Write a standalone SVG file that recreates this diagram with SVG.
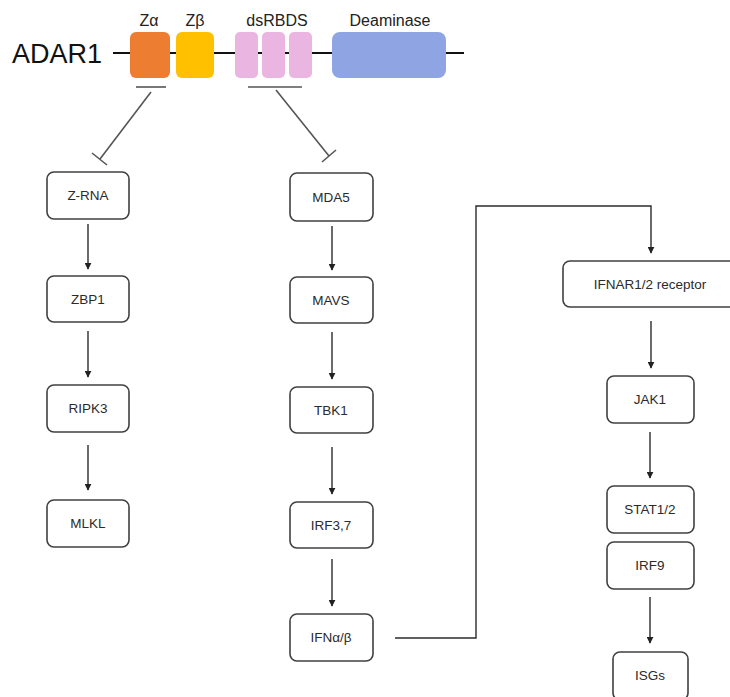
<svg xmlns="http://www.w3.org/2000/svg" width="730" height="697" viewBox="0 0 730 697">
<style>
.node rect{fill:#fff;stroke:#404040;stroke-width:1.6}
.node text{font-family:"Liberation Sans",Arial,sans-serif;font-size:13.5px;fill:#2b2b2b;text-anchor:middle}
.lbl{font-family:"Liberation Sans",Arial,sans-serif;font-size:16px;fill:#222;text-anchor:middle}
.conn{stroke:#2b2b2b;stroke-width:1.4;fill:none}
.inh{stroke:#555;stroke-width:1.6;fill:none}
</style>
<defs>
<marker id="ah" viewBox="0 0 10 10" refX="9" refY="5" markerWidth="7" markerHeight="7" markerUnits="userSpaceOnUse" orient="auto">
<path d="M0,0 L10,5 L0,10 z" fill="#222"/>
</marker>
</defs>
<g id="adar1">
<text x="12" y="63" font-family="Liberation Sans,Arial,sans-serif" font-size="27" fill="#111">ADAR1</text>
<line x1="113" y1="53" x2="464" y2="53" stroke="#111" stroke-width="2"/>
<rect x="130" y="32" width="40" height="46" rx="6" fill="#ED7D31"/>
<rect x="176" y="32" width="38" height="46" rx="6" fill="#FFC000"/>
<rect x="235" y="32" width="23" height="46" rx="5" fill="#EBB5E2"/>
<rect x="262" y="32" width="23" height="46" rx="5" fill="#EBB5E2"/>
<rect x="289" y="32" width="23" height="46" rx="5" fill="#EBB5E2"/>
<rect x="332" y="32" width="114" height="46" rx="8" fill="#8EA4E3"/>
<text class="lbl" x="149" y="26">Zα</text>
<text class="lbl" x="195" y="26">Zβ</text>
<text class="lbl" x="277" y="26">dsRBDS</text>
<text class="lbl" x="390" y="26">Deaminase</text>
</g>
<g id="connectors">
<line class="inh" x1="136" y1="87" x2="166" y2="87"/>
<line class="inh" x1="248" y1="87" x2="302" y2="87"/>
<line class="inh" x1="151" y1="92" x2="100" y2="159"/>
<line class="inh" x1="92" y1="153" x2="107" y2="165"/>
<line class="inh" x1="276" y1="90" x2="329" y2="156"/>
<line class="inh" x1="322" y1="162" x2="336" y2="150"/>
<line class="conn" x1="88" y1="224" x2="88" y2="269" marker-end="url(#ah)"/>
<line class="conn" x1="88" y1="331" x2="88" y2="377" marker-end="url(#ah)"/>
<line class="conn" x1="88" y1="445" x2="88" y2="490" marker-end="url(#ah)"/>
<line class="conn" x1="332" y1="226" x2="332" y2="270" marker-end="url(#ah)"/>
<line class="conn" x1="332" y1="332" x2="332" y2="379" marker-end="url(#ah)"/>
<line class="conn" x1="332" y1="447" x2="332" y2="494" marker-end="url(#ah)"/>
<line class="conn" x1="332" y1="559" x2="332" y2="606" marker-end="url(#ah)"/>
<polyline class="conn" points="395,638 476,638 476,206 651,206 651,253" marker-end="url(#ah)"/>
<line class="conn" x1="651" y1="321" x2="651" y2="368" marker-end="url(#ah)"/>
<line class="conn" x1="650" y1="432" x2="650" y2="478" marker-end="url(#ah)"/>
<line class="conn" x1="650" y1="597" x2="650" y2="643" marker-end="url(#ah)"/>
</g>
<g id="zrna" class="node"><rect x="47" y="172" width="82" height="47" rx="7"/><text x="88" y="200">Z-RNA</text></g>
<g id="zbp1" class="node"><rect x="47" y="276" width="82" height="46" rx="7"/><text x="88" y="304">ZBP1</text></g>
<g id="ripk3" class="node"><rect x="47" y="385" width="82" height="47" rx="7"/><text x="88" y="413">RIPK3</text></g>
<g id="mlkl" class="node"><rect x="47" y="500" width="82" height="47" rx="7"/><text x="88" y="528">MLKL</text></g>
<g id="mda5" class="node"><rect x="290" y="173" width="83" height="48" rx="7"/><text x="331" y="202">MDA5</text></g>
<g id="mavs" class="node"><rect x="290" y="277" width="83" height="46" rx="7"/><text x="331" y="305">MAVS</text></g>
<g id="tbk1" class="node"><rect x="290" y="387" width="83" height="46" rx="7"/><text x="331" y="415">TBK1</text></g>
<g id="irf37" class="node"><rect x="290" y="502" width="83" height="46" rx="7"/><text x="331" y="530">IRF3,7</text></g>
<g id="ifnab" class="node"><rect x="290" y="614" width="83" height="47" rx="7"/><text x="331" y="642">IFNα/β</text></g>
<g id="ifnar" class="node"><rect x="563" y="261" width="175" height="46" rx="7"/><text x="650" y="289">IFNAR1/2 receptor</text></g>
<g id="jak1" class="node"><rect x="607" y="376" width="87" height="47" rx="7"/><text x="650" y="404">JAK1</text></g>
<g id="stat12" class="node"><rect x="607" y="486" width="87" height="47" rx="7"/><text x="650" y="514">STAT1/2</text></g>
<g id="irf9" class="node"><rect x="607" y="542" width="87" height="47" rx="7"/><text x="650" y="570">IRF9</text></g>
<g id="isgs" class="node"><rect x="613" y="652" width="75" height="48" rx="7"/><text x="650" y="680">ISGs</text></g>
</svg>
